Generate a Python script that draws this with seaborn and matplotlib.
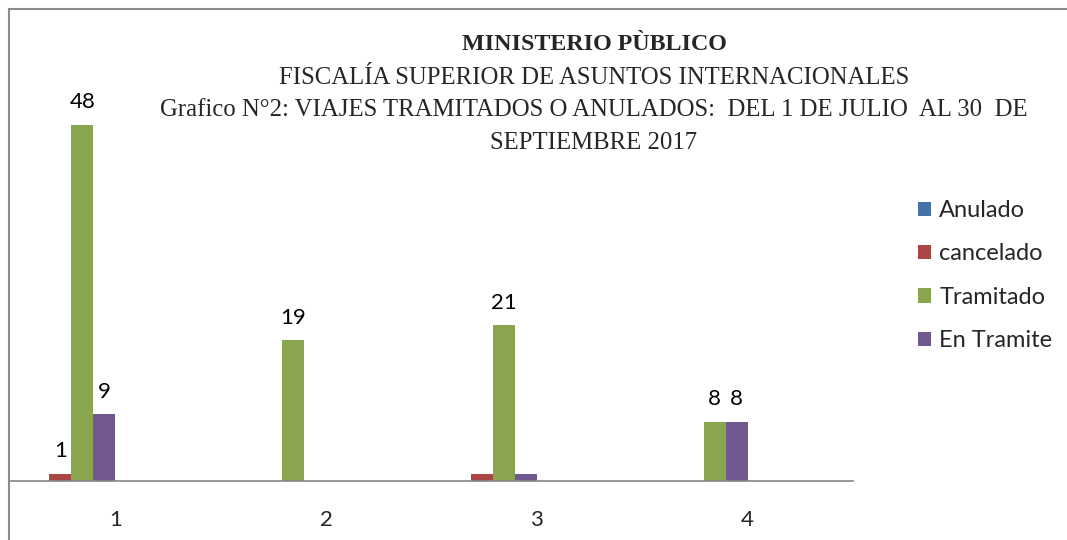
import pandas as pd
import seaborn as sns
import matplotlib.pyplot as plt
from matplotlib.patches import Rectangle, Patch

# datos
grupos = ["1", "2", "3", "4"]
series = ["Anulado", "cancelado", "Tramitado", "En Tramite"]
anulado = [0, 0, 0, 0]
cancelado = [1, 0, 1, 0]
tramitado = [48, 19, 21, 8]
en_tramite = [9, 0, 1, 8]

# que barras llevan etiqueta de dato en el original
etiquetas = {
    "Anulado": [False, False, False, False],
    "cancelado": [True, False, False, False],
    "Tramitado": [True, True, True, True],
    "En Tramite": [True, False, False, True],
}

colores = ["#4572A7", "#AA4643", "#89A54E", "#71588F"]
# series vacias: Excel les guarda el hueco en cada grupo
vacias = ["s5", "s6", "s7", "s8"]

titulo = [
    "MINISTERIO PÙBLICO",
    "FISCALÍA SUPERIOR DE ASUNTOS INTERNACIONALES",
    "Grafico N°2: VIAJES TRAMITADOS O ANULADOS:  DEL 1 DE JULIO  AL 30  DE",
    "SEPTIEMBRE 2017",
]

valores = dict(zip(series, [anulado, cancelado, tramitado, en_tramite]))
df = pd.DataFrame(
    [(g, s, v) for s in series for g, v in zip(grupos, valores[s])],
    columns=["grupo", "serie", "valor"],
)

sns.set_style("white")
plt.rcParams['font.family'] = ['Lato', 'DejaVu Sans']

W, H = 1067, 540
fig = plt.figure(figsize=(W / 100, H / 100), dpi=100)
ax = fig.add_axes([10 / W, 59 / H, 843 / W, 445 / H])

pal = dict(zip(series + vacias, colores + ["white"] * 4))
sns.barplot(data=df, x="grupo", y="valor", hue="serie", order=grupos,
            hue_order=series + vacias, palette=pal, width=0.835, gap=0,
            saturation=1, linewidth=0, errorbar=None, legend=False, ax=ax)

# etiquetas de datos
for s, cont in zip(series, ax.containers):
    labs = [str(v) if m else "" for v, m in zip(valores[s], etiquetas[s])]
    ax.bar_label(cont, labels=labs, padding=9, fontsize=16, color="black")

ax.set_ylim(0, 60)
ax.set_xlim(-0.5, 3.5)
ax.set_xlabel("")
ax.set_ylabel("")
ax.set_yticks([])
for sp in ["left", "right", "top"]:
    ax.spines[sp].set_visible(False)
ax.spines["bottom"].set_color("#868686")
ax.spines["bottom"].set_linewidth(1.2)
ax.set_xticks([-0.5, 0.5, 1.5, 2.5, 3.5], minor=True)
ax.tick_params(axis="x", which="minor", length=6, color="#868686", width=1.2, direction="out")
ax.tick_params(axis="x", which="major", length=0, pad=21, labelsize=16)

# marco exterior del grafico
fig.patches.append(Rectangle((9 / W, -0.1), 1.0, 1.1 - 9 / H, transform=fig.transFigure,
                             fill=False, edgecolor="#8c8c8c", linewidth=1.5))

# titulo
ys = [45, 78, 110, 143]
for i, (t, y) in enumerate(zip(titulo, ys)):
    fig.text(594 / W, 1 - y / H, t, ha="center", va="center",
             family="Liberation Serif", fontsize=17.3 if i == 0 else 17.8,
             fontweight="bold" if i == 0 else "normal")

# leyenda
handles = [Patch(facecolor=c, edgecolor="none", label=s) for s, c in zip(series, colores)]
fig.legend(handles=handles, loc="upper left", bbox_to_anchor=(918 / W, 1 - 200 / H),
           frameon=False, fontsize=17, handlelength=0.55, handleheight=0.55,
           handletextpad=0.35, labelspacing=0.95, borderpad=0, borderaxespad=0)

plt.savefig("out.png", dpi=100)
